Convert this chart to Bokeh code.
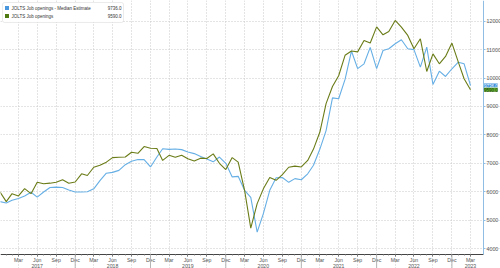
import pandas as pd
from bokeh.plotting import figure
from bokeh.models import Range1d, FixedTicker, Label, BoxAnnotation, Arrow
from bokeh.embed import file_html
from bokeh.resources import INLINE

# ---- data (month-end dates, Dec 2016 .. Mar 2023) ----
start_month = "2017-01-01"
n_months = 76
median_estimate = [
    5650, 5600, 5700, 5760, 5850, 5980, 5810, 5990, 6150, 6160, 6150, 6060, 5990,
    5990, 6000, 6100, 6390, 6650, 6680, 6750, 6950, 7070, 7130, 7130, 6870, 7220,
    7510, 7490, 7500, 7480, 7400, 7340, 7240, 7150, 7050, 7220, 7000, 6520, 6540,
    6050, 5800, 4580, 5230, 6050, 6490, 6500, 6330, 6460, 6420, 6630, 6930, 7500,
    8150, 9300, 9270, 9950, 10950, 10330, 10500, 11080, 10330, 10970, 11030, 11205,
    11346, 11030, 11000, 10383, 11086, 9774, 10242, 10055, 10326, 10558, 10500, 9736,
]
job_openings = [
    6000, 5650, 5930, 5850, 6110, 5930, 6330, 6280, 6300, 6330, 6420, 6300, 6340,
    6630, 6570, 6860, 6930, 7040, 7200, 7210, 7220, 7390, 7350, 7590, 7530, 7520,
    7100, 7280, 7210, 7280, 7160, 7080, 7180, 7170, 7330, 7000, 6780, 7200, 7040,
    6050, 4720, 5580, 6100, 6500, 6400, 6600, 6860, 6900, 6870, 7100, 7500, 8100,
    9100, 9700, 10080, 10800, 10950, 10920, 11320, 11230, 11800, 11520, 11640, 12025,
    11790, 11500, 11030, 11380, 10230, 10850, 10500, 10760, 11230, 10560, 9975, 9590,
]
last_estimate = "9736.0"
last_actual = "9590.0"
y_ticks = [4000, 5000, 6000, 7000, 8000, 9000, 10000, 11000, 12000]
month_names = {3: "Mar", 6: "Jun", 9: "Sep", 12: "Dec"}

dates = pd.date_range(start_month, periods=n_months, freq="MS") - pd.Timedelta(days=1)

BLUE = "#66afe5"
GREEN = "#6a7c17"

W, H = 500, 268
AX_X, AX_Y = 483.0, 254.0            # pixel position of y axis line / x axis line


def ms(ts):
    return int(pd.Timestamp(ts).value // 10**6)


x_left = ms("2017-01-03")
x_axis_pos = ms("2023-06-02")         # at pixel AX_X
x_right = x_left + (x_axis_pos - x_left) * W / AX_X
y_top = 12728.0
y_axis_pos = 3790.0                   # at pixel AX_Y
y_bottom = y_top - (y_top - y_axis_pos) * H / AX_Y


def px2x(px):
    return x_left + (x_right - x_left) * px / W


def px2y(py):
    return y_top - (y_top - y_bottom) * py / H


p = figure(width=W, height=H, x_axis_type="datetime", y_axis_location="right",
           x_range=Range1d(x_left, x_right), y_range=Range1d(y_bottom, y_top),
           toolbar_location=None, output_backend="svg", min_border=0,
           outline_line_color=None, background_fill_color="white",
           border_fill_color="white")

# ---- grid ----
q_ticks, overrides, seps = [], {}, []
for d in dates:
    if d.month in month_names and d >= pd.Timestamp("2017-03-01"):
        t = ms(d)
        q_ticks.append(t)
        lab = month_names[d.month]
        if d.month == 6 or (d.year == 2023 and d.month == 3):
            lab = lab + "\n" + str(d.year)
        overrides[t] = lab
        if d.month == 12:
            seps.append(t)
m_ticks = [ms(d) for d in dates]

p.xgrid.ticker = FixedTicker(ticks=q_ticks)
p.xgrid.bounds = (y_axis_pos, y_top)
p.xgrid.grid_line_color = "#c9c9c9"
p.xgrid.grid_line_dash = "1 2"
p.ygrid.ticker = FixedTicker(ticks=y_ticks)
p.ygrid.bounds = (x_left, x_axis_pos)
p.ygrid.grid_line_color = "#c9c9c9"
p.ygrid.grid_line_dash = "1 2"

# ---- lines ----
p.line(dates, median_estimate, line_color=BLUE, line_width=1.1)
p.line(dates, job_openings, line_color=GREEN, line_width=1.1)

# ---- x axis ----
xa = p.xaxis[0]
xa.fixed_location = y_axis_pos
xa.bounds = (x_left, x_axis_pos)
xa.ticker = FixedTicker(ticks=q_ticks, minor_ticks=m_ticks)
xa.major_label_overrides = overrides
xa.major_label_text_font = "Liberation Sans"
xa.major_label_text_font_size = "5.2px"
xa.major_label_text_color = "#555555"
xa.major_label_text_line_height = 1.0
xa.major_label_standoff = 0
xa.major_tick_out = 2
xa.major_tick_in = 0
xa.minor_tick_out = 1
xa.minor_tick_in = 0
xa.axis_line_color = "#444444"
xa.major_tick_line_color = "#666666"
xa.minor_tick_line_color = "#888888"

# ---- y axis ----
ya = p.yaxis[0]
ya.fixed_location = x_axis_pos
ya.bounds = (y_axis_pos, y_top)
ya.ticker = FixedTicker(ticks=y_ticks)
ya.major_label_text_font = "Liberation Sans"
ya.major_label_text_font_size = "5.3px"
ya.major_label_text_color = "#555555"
ya.major_label_standoff = 1
ya.major_tick_out = 2
ya.major_tick_in = 0
ya.minor_tick_out = 0
ya.minor_tick_in = 0
ya.axis_line_color = "#8fbde3"
ya.major_tick_line_color = "#8fbde3"

# year separators below the axis
for t in seps:
    p.add_layout(Arrow(end=None, x_start=t, x_end=t, y_start=y_axis_pos, y_end=y_bottom,
                       line_color="#b5b5b5", line_width=1))

# ---- legend box ----
p.add_layout(BoxAnnotation(left=px2x(2), right=px2x(123), top=px2y(2), bottom=px2y(22),
                           fill_color="white", fill_alpha=0.95,
                           line_color="#aaaaaa", line_width=0.8, border_radius=2))
entries = [("JOLTS Job openings - Median Estimate", last_estimate, "#4a97dd", 7.5),
           ("JOLTS Job openings", last_actual, "#4f7a12", 15.5)]
for name, val, col, yc in entries:
    p.add_layout(BoxAnnotation(left=px2x(4.5), right=px2x(8.5), top=px2y(yc - 2),
                               bottom=px2y(yc + 2), fill_color=col, fill_alpha=1,
                               line_color=None))
    p.add_layout(Label(x=px2x(11), y=px2y(yc), text=name, text_font="Liberation Sans",
                       text_font_size="4.5px", text_color="#333333",
                       text_baseline="middle", text_align="left"))
    p.add_layout(Label(x=px2x(121), y=px2y(yc), text=val, text_font="Liberation Sans",
                       text_font_size="4.5px", text_color="#333333",
                       text_baseline="middle", text_align="right"))

# ---- last value badges ----
for val, num, bg, fg in [(last_estimate, median_estimate[-1], "#3c8fdc", "white"),
                         (last_actual, job_openings[-1], "#5ea82e", "#1d3d08")]:
    p.add_layout(Label(x=x_axis_pos, y=num, text=val, x_offset=0.5,
                       text_font="Liberation Sans", text_font_size="4.5px",
                       text_color=fg, text_baseline="middle", text_align="left",
                       background_fill_color=bg, background_fill_alpha=1))

open("out.html", "w").write(file_html(p, INLINE))
